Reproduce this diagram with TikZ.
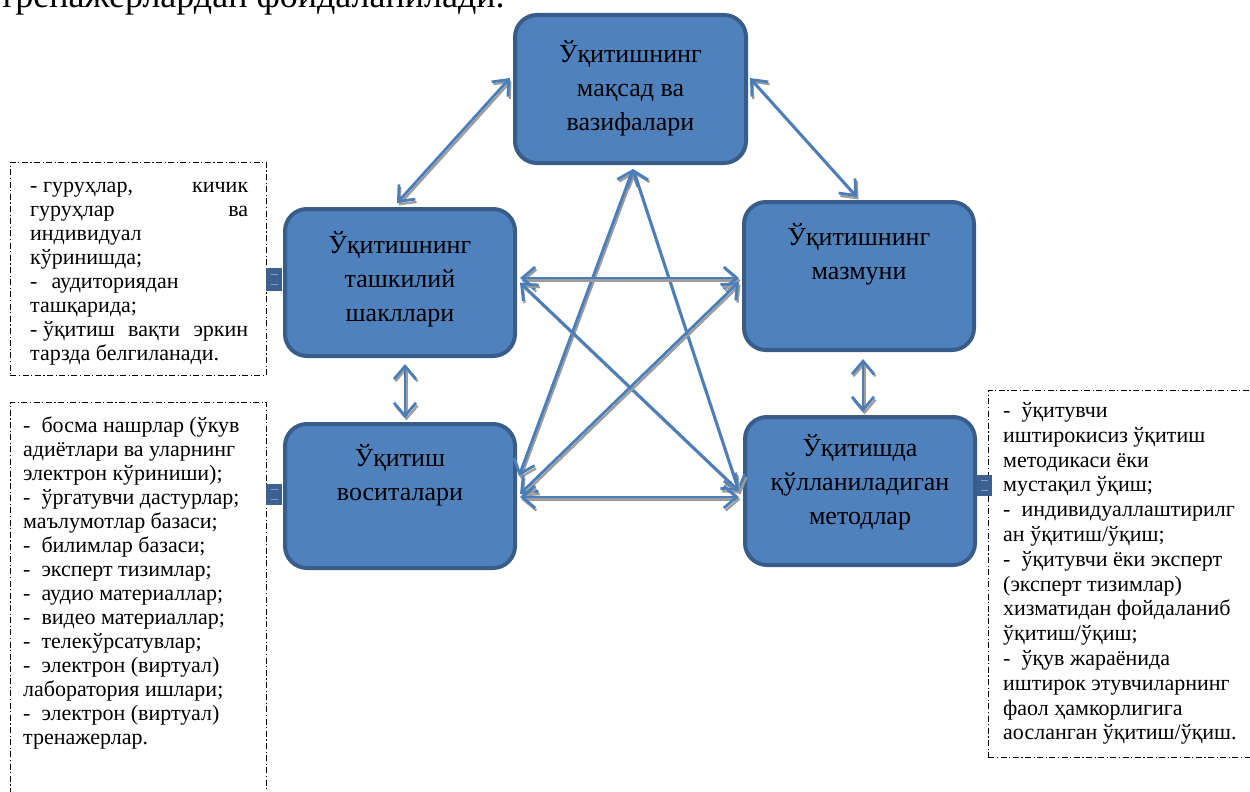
\documentclass[tikz,border=0pt]{standalone}
\usepackage{fontspec}
\setmainfont{Liberation Serif}
\usetikzlibrary{arrows.meta,calc}
\definecolor{boxfill}{HTML}{4F81BD}
\definecolor{boxedge}{HTML}{385D8A}
\definecolor{arrowblue}{HTML}{4A7EBB}
\definecolor{shadowgray}{HTML}{9C9C9C}
\definecolor{tabfill}{HTML}{3C6090}
\definecolor{tabline}{HTML}{7DA0CC}
\tikzset{
 bigbox/.style={draw=boxedge, fill=boxfill, line width=4pt, rounded corners=22pt, minimum width=230pt, inner sep=0pt},
 boxtext/.style={font=\fontsize{26}{34}\selectfont, align=center, inner sep=0pt, anchor=north},
 sidetext/.style={font=\fontsize{22}{24}\selectfont, align=left, inner sep=0pt, anchor=north west},
 sidetextr/.style={font=\fontsize{22}{24.8}\selectfont, align=left, inner sep=0pt, anchor=north west},
 dashbox/.style={draw=black, line width=0.9pt, dash pattern=on 6pt off 2.5pt on 1.2pt off 2.5pt, inner sep=0pt},
 conn/.style={draw=arrowblue, line width=2.8pt, {Straight Barb[length=13pt,width=22pt]}-{Straight Barb[length=13pt,width=22pt]}},
 connshadow/.style={draw=shadowgray, line width=2.3pt, {Straight Barb[length=13pt,width=22pt]}-{Straight Barb[length=13pt,width=22pt]}},
 tabbox/.style={fill=tabfill, draw=none, inner sep=0pt},
 tabmark/.style={draw=tabline, line width=1.4pt},
}
\newcommand{\biarrow}[2]{%
 \draw[connshadow] ($#1+(1.5,2.5)$) -- ($#2+(1.5,2.5)$);
 \draw[conn] ($#1$) -- ($#2$);}
\begin{document}
\begin{tikzpicture}[x=1pt,y=-1pt]
\clip (0,0) rectangle (1250,792);
% top partial text
\node[font=\fontsize{36}{40}\selectfont, anchor=base west, inner sep=0pt] (toptext) at (-1,8) {тренажерлардан фойдаланилади.};
% dashed frames
\node[dashbox, minimum width=256pt, minimum height=213pt, anchor=north west] (d1) at (10,162) {};
\node[dashbox, minimum width=256pt, minimum height=420pt, anchor=north west] (d2) at (10,402) {};
\node[dashbox, minimum width=270pt, minimum height=367pt, anchor=north west] (d3) at (988,390) {};
% tabs
\node[tabbox, minimum width=16pt, minimum height=23pt, anchor=north west] (tab1) at (266,268) {};
\draw[tabmark] ($(tab1.west)+(5,-5)$) -- ($(tab1.east)+(-4,-5)$);
\draw[tabmark] ($(tab1.west)+(5,5)$) -- ($(tab1.east)+(-4,5)$);
\node[tabbox, minimum width=16pt, minimum height=21pt, anchor=north west] (tab2) at (266,484) {};
\draw[tabmark] ($(tab2.west)+(5,-5)$) -- ($(tab2.east)+(-4,-5)$);
\draw[tabmark] ($(tab2.west)+(5,5)$) -- ($(tab2.east)+(-4,5)$);
\node[tabbox, minimum width=15pt, minimum height=21pt, anchor=north west] (tab3) at (977,475) {};
\draw[tabmark] ($(tab3.west)+(4,-5)$) -- ($(tab3.east)+(-4,-5)$);
\draw[tabmark] ($(tab3.west)+(4,5)$) -- ($(tab3.east)+(-4,5)$);
% main boxes
\node[bigbox, minimum width=231pt, minimum height=148pt] (top) at (630.5,89) {};
\node[bigbox, minimum height=147pt] (tl) at (400,282.5) {};
\node[bigbox, minimum height=148pt] (tr) at (859,276) {};
\node[bigbox, minimum height=144pt] (bl) at (400,496) {};
\node[bigbox, minimum height=148pt] (br) at (860,491) {};
% box texts
\node[boxtext] (topt) at ($(top.north)+(0,25)$) {\strut Ўқитишнинг\\ мақсад ва\\ вазифалари};
\node[boxtext] (tlt) at ($(tl.north)+(0,22)$) {\strut Ўқитишнинг\\ ташкилий\\ шакллари};
\node[boxtext] (trt) at ($(tr.north)+(0,21)$) {\strut Ўқитишнинг\\ мазмуни};
\node[boxtext] (blt) at ($(bl.north)+(0,20)$) {\strut Ўқитиш\\ воситалари};
\node[boxtext] (brt) at ($(br.north)+(0,17)$) {\strut Ўқитишда\\ қўлланиладиган\\ методлар};
% connectors
\biarrow{(top.west)+(-3,-11)}{(tl.north)+(-3,-4)}
\biarrow{(top.east)+(2,-11)}{(tr.north)+(-2,-3)}
\biarrow{(top.south)+(2.5,4)}{(bl.east)+(2,-20)}
\biarrow{(top.south)+(2.5,4)}{(br.west)+(-4,1)}
\biarrow{(tl.east)+(3,-4.5)}{(tr.west)+(-3,2)}
\biarrow{(tl.east)+(3,0)}{(br.west)+(-4,0)}
\biarrow{(tr.west)+(-3,6)}{(bl.east)+(3,-2)}
\biarrow{(bl.east)+(3,1)}{(br.west)+(-4,6)}
\biarrow{(tl.south)+(5,6)}{(bl.north)+(5,-4)}
\biarrow{(tr.south)+(4,7)}{(br.north)+(3,-3)}
% side texts
\node[sidetext] (t1) at (30,175) {\strut\hbox to 218pt{- гуруҳлар,\hfill кичик}\\
\hbox to 218pt{гуруҳлар\hfill ва}\\
индивидуал\\
кўринишда;\\
-\hspace{14pt}аудиториядан\\
ташқарида;\\
\hbox to 218pt{- ўқитиш\hfill вақти\hfill эркин}\\
тарзда белгиланади.};
\node[sidetext] (t2) at (23,415) {\strut -\ \ босма нашрлар (ўкув\\
адиётлари ва уларнинг\\
электрон кўриниши);\\
-\ \ ўргатувчи дастурлар;\\
маълумотлар базаси;\\
-\ \ билимлар базаси;\\
-\ \ эксперт тизимлар;\\
-\ \ аудио материаллар;\\
-\ \ видео материаллар;\\
-\ \ телекўрсатувлар;\\
-\ \ электрон (виртуал)\\
лаборатория ишлари;\\
-\ \ электрон (виртуал)\\
тренажерлар.};
\node[sidetextr] (t3) at (1003,400) {\strut -\ \ ўқитувчи\\
иштирокисиз ўқитиш\\
методикаси ёки\\
мустақил ўқиш;\\
-\ \ индивидуаллаштирилг\\
ан ўқитиш/ўқиш;\\
-\ \ ўқитувчи ёки эксперт\\
(эксперт тизимлар)\\
хизматидан фойдаланиб\\
ўқитиш/ўқиш;\\
-\ \ ўқув жараёнида\\
иштирок этувчиларнинг\\
фаол ҳамкорлигига\\
аосланган ўқитиш/ўқиш.};
\end{tikzpicture}
\end{document}
